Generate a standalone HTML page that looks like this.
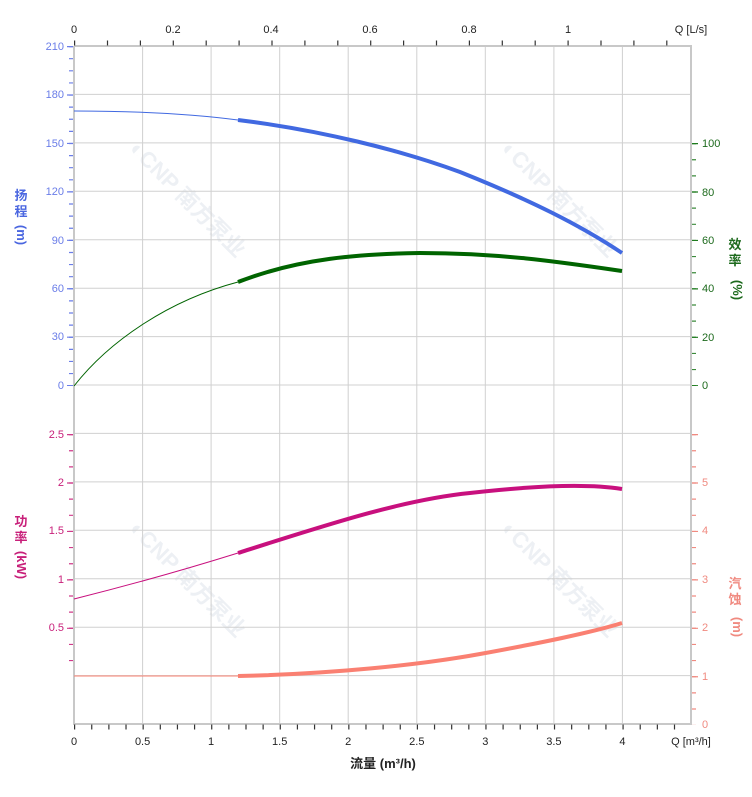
<!DOCTYPE html>
<html><head><meta charset="utf-8"><style>
html,body{margin:0;padding:0;background:#fff;}
svg{display:block;font-family:"Liberation Sans","Noto Sans CJK SC",sans-serif;}
</style></head><body>
<svg width="752" height="797" viewBox="0 0 752 797" xmlns="http://www.w3.org/2000/svg">
<g fill="#e6eaf0" font-size="22" font-weight="bold" opacity="0.7">
<text transform="translate(128,150) rotate(45)">◐CNP 南方泵业</text>
<text transform="translate(500,150) rotate(45)">◐CNP 南方泵业</text>
<text transform="translate(128,530) rotate(45)">◐CNP 南方泵业</text>
<text transform="translate(500,530) rotate(45)">◐CNP 南方泵业</text>
</g>
<g stroke="#d0d0d0" stroke-width="1">
<path d="M74,46H691M74,94.4H691M74,142.9H691M74,191.3H691M74,239.7H691M74,288.2H691M74,336.6H691M74,385H691M74,433.4H691M74,481.9H691M74,530.3H691M74,578.7H691M74,627.2H691M74,675.6H691"/>
<path d="M142.6,46V724M211.1,46V724M279.7,46V724M348.2,46V724M416.8,46V724M485.3,46V724M553.9,46V724M622.4,46V724"/>
</g>
<g stroke="#c8c8c8" stroke-width="2" fill="none">
<path d="M74,46V724H691V46H74"/>
</g>
<line x1="74" y1="43" x2="691" y2="43" stroke="#333" stroke-width="5" stroke-dasharray="1.2 31.7"/>
<line x1="74" y1="727" x2="691" y2="727" stroke="#333" stroke-width="5" stroke-dasharray="1.2 15.94"/>
<line x1="71" y1="46" x2="71" y2="386" stroke="#6a7de8" stroke-width="4" stroke-dasharray="1.2 10.91"/>
<line x1="70" y1="46" x2="70" y2="386" stroke="#6a7de8" stroke-width="6" stroke-dasharray="1.2 47.23"/>
<line x1="71" y1="434" x2="71" y2="676" stroke="#d03a8a" stroke-width="4" stroke-dasharray="1.2 14.94"/>
<line x1="70" y1="434" x2="70" y2="630" stroke="#d03a8a" stroke-width="6" stroke-dasharray="1.2 47.23"/>
<line x1="694" y1="143" x2="694" y2="386" stroke="#3a8a3a" stroke-width="4" stroke-dasharray="1.2 14.94"/>
<line x1="695" y1="143" x2="695" y2="386" stroke="#1d7a1d" stroke-width="6" stroke-dasharray="1.2 47.23"/>
<line x1="694" y1="434" x2="694" y2="724.6" stroke="#f08a80" stroke-width="4" stroke-dasharray="1.2 14.94"/>
<line x1="695" y1="434" x2="695" y2="724.6" stroke="#f08a80" stroke-width="6" stroke-dasharray="1.2 47.23"/>
<g font-size="11" fill="#222" text-anchor="middle">
<text x="74" y="33">0</text><text x="173" y="33">0.2</text><text x="271" y="33">0.4</text><text x="370" y="33">0.6</text><text x="469" y="33">0.8</text><text x="568" y="33">1</text>
<text x="691" y="33">Q [L/s]</text>
</g>
<g font-size="11" fill="#222" text-anchor="middle">
<text x="74" y="745">0</text><text x="142.6" y="745">0.5</text><text x="211.1" y="745">1</text><text x="279.7" y="745">1.5</text><text x="348.2" y="745">2</text><text x="416.8" y="745">2.5</text><text x="485.3" y="745">3</text><text x="553.9" y="745">3.5</text><text x="622.4" y="745">4</text>
<text x="691" y="745">Q [m³/h]</text>
<text x="383" y="768" font-size="13" font-weight="bold">流量 (m³/h)</text>
</g>
<g font-size="11" fill="#6a7de8" text-anchor="end">
<text x="64" y="50">210</text><text x="64" y="98">180</text><text x="64" y="147">150</text><text x="64" y="195">120</text><text x="64" y="244">90</text><text x="64" y="292">60</text><text x="64" y="340">30</text><text x="64" y="389">0</text>
</g>
<g font-size="11" fill="#c8207a" text-anchor="end">
<text x="64" y="438">2.5</text><text x="64" y="486">2</text><text x="64" y="534">1.5</text><text x="64" y="583">1</text><text x="64" y="631">0.5</text>
</g>
<g font-size="13" font-weight="bold" fill="#4a66e0" text-anchor="middle">
<text x="21" y="200">扬</text><text x="21" y="216">程</text>
<text transform="translate(17,235) rotate(90)" text-anchor="middle">(m)</text>
</g>
<g font-size="13" font-weight="bold" fill="#c8207a" text-anchor="middle">
<text x="21" y="526">功</text><text x="21" y="542">率</text>
<text transform="translate(17,565) rotate(90)" text-anchor="middle">(kW)</text>
</g>
<g font-size="11" fill="#1d6a1d">
<text x="702" y="147">100</text><text x="702" y="196">80</text><text x="702" y="244">60</text><text x="702" y="292">40</text><text x="702" y="341">20</text><text x="702" y="389">0</text>
</g>
<g font-size="11" fill="#f08a80">
<text x="702" y="486">5</text><text x="702" y="534">4</text><text x="702" y="583">3</text><text x="702" y="631">2</text><text x="702" y="680">1</text><text x="702" y="728">0</text>
</g>
<g font-size="13" font-weight="bold" fill="#1d6a1d" text-anchor="middle">
<text x="735" y="249">效</text><text x="735" y="265">率</text>
<text transform="translate(733,290) rotate(90)" text-anchor="middle">(%)</text>
</g>
<g font-size="13" font-weight="bold" fill="#f08a80" text-anchor="middle">
<text x="735" y="588">汽</text><text x="735" y="604">蚀</text>
<text transform="translate(733,627) rotate(90)" text-anchor="middle">(m)</text>
</g>
<g fill="none" stroke-linecap="butt" stroke-linejoin="round">
<path d="M74,111 C150,111 200,115 238,120" stroke="#4169e1" stroke-width="1"/>
<path d="M238,120 C320,130 400,150 460,172 C530,200 580,225 622,253" stroke="#4169e1" stroke-width="4"/>
<path d="M74,386 C110,340 170,300 238,282" stroke="#006400" stroke-width="1"/>
<path d="M238,282 C300,258 360,254 420,253 C500,253 560,262 622,271" stroke="#006400" stroke-width="4"/>
<path d="M74,599 C130,585 190,568 238,553" stroke="#c8107e" stroke-width="1"/>
<path d="M238,553 C320,527 400,500 470,493 C540,485 590,484 622,489" stroke="#c8107e" stroke-width="4"/>
<path d="M74,676 H238" stroke="#fa8072" stroke-width="1"/>
<path d="M238,676 C330,674 420,665 480,654 C540,643 590,633 622,623" stroke="#fa8072" stroke-width="4"/>
</g>
</svg>
</body></html>
